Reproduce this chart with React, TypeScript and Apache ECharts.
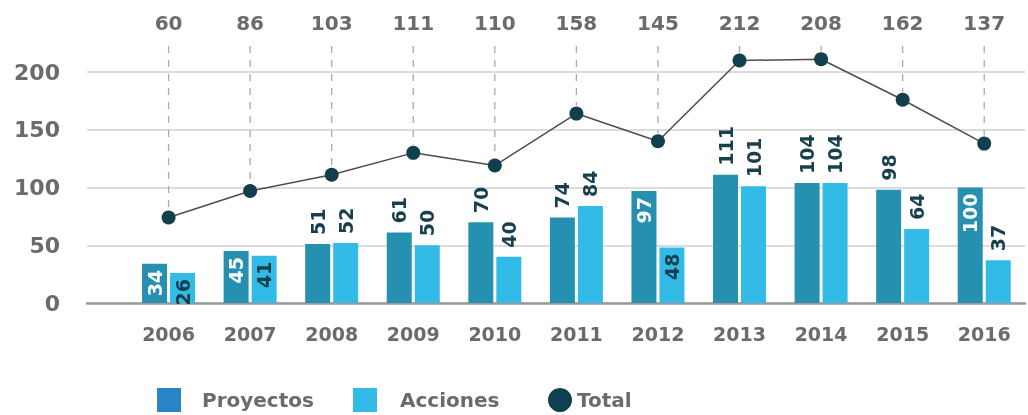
import React, { useEffect, useRef } from "react";
import * as echarts from "echarts";

const years = ["2006", "2007", "2008", "2009", "2010", "2011", "2012", "2013", "2014", "2015", "2016"];
const proyectos = [34, 45, 51, 61, 70, 74, 97, 111, 104, 98, 100];
const acciones = [26, 41, 52, 50, 40, 84, 48, 101, 104, 64, 37];
const totalLabels = [60, 86, 103, 111, 110, 158, 145, 212, 208, 162, 137];
const totalLine = [74, 97, 111, 130, 119, 164, 140, 210, 211, 176, 138];
const proyectosInside = ["2006", "2007", "2012", "2016"];
const accionesInside = ["2006", "2007", "2012"];

const FONT = '"DejaVu Sans", sans-serif';
const DARK = "#173f4c";
const GRAY = "#6b6b6b";

function barData(values: number[], inside: string[], insideColor: string) {
  return values.map((v, i) => {
    const isIn = inside.includes(years[i]);
    return {
      value: [Number(years[i]), v],
      label: isIn
        ? { position: "insideTop", align: "right", verticalAlign: "middle", distance: 6, color: insideColor }
        : { position: "top", align: "left", verticalAlign: "middle", distance: 9, color: DARK },
    };
  });
}

export default function App() {
  const ref = useRef<HTMLDivElement>(null);
  useEffect(() => {
    const chart = echarts.init(ref.current!, undefined, { renderer: "svg" });
    const barLabel = {
      show: true,
      rotate: 90,
      fontFamily: FONT,
      fontWeight: "bold",
      fontSize: 19,
      formatter: (p: any) => String(p.value[1]),
    };
    const legendText = { fontFamily: FONT, fontWeight: "bold", fontSize: 20, color: GRAY };
    chart.setOption({
      animation: false,
      grid: { left: 87, right: 3, top: 72, bottom: 112 },
      legend: [
        {
          left: 157, top: 388, padding: 0, itemWidth: 24, itemHeight: 24, icon: "rect",
          data: [{ name: "Proyectos", itemStyle: { color: "#2a84c6" } }],
          textStyle: { ...legendText, padding: [0, 0, 0, 16] },
        },
        {
          left: 353, top: 388, padding: 0, itemWidth: 24, itemHeight: 24, icon: "rect",
          data: [{ name: "Acciones", itemStyle: { color: "#33bbe8" } }],
          textStyle: { ...legendText, padding: [0, 0, 0, 18] },
        },
        {
          left: 548, top: 388, padding: 0, itemWidth: 24, itemHeight: 24, icon: "circle",
          data: [{ name: "Total", itemStyle: { color: "#123f4c" } }],
          textStyle: { ...legendText },
        },
      ],
      xAxis: {
        type: "value",
        min: 2005,
        max: 2016.5,
        interval: 1,
        splitLine: { show: false },
        axisTick: { show: false },
        axisLine: { show: true, lineStyle: { color: "#9a9a9a", width: 2.5 } },
        axisLabel: {
          margin: 21,
          fontFamily: FONT,
          fontWeight: "bold",
          fontSize: 19,
          color: GRAY,
          showMinLabel: false,
          showMaxLabel: false,
          formatter: (v: number) => {
            const s = String(v);
            return years.includes(s) ? s : "";
          },
        },
      },
      yAxis: {
        type: "value",
        min: 0,
        max: 200,
        interval: 50,
        axisLine: { show: false },
        axisTick: { show: false },
        splitLine: { lineStyle: { color: "#dcdcdc", width: 2 } },
        axisLabel: { margin: 27, fontFamily: FONT, fontWeight: "bold", fontSize: 22, color: GRAY },
      },
      series: [
        {
          type: "custom",
          name: "guides",
          z: 1,
          clip: false,
          silent: true,
          data: years.map((y, i) => [Number(y), totalLine[i], totalLabels[i]]),
          encode: { x: 0, y: 1 },
          renderItem: (params: any, api: any) => {
            const pt = api.coord([api.value(0), api.value(1)]);
            const top = params.coordSys.y;
            return {
              type: "group",
              children: [
                {
                  type: "line",
                  shape: { x1: pt[0], y1: top - 26, x2: pt[0], y2: pt[1] - 8 },
                  style: { stroke: "#aaaaaa", lineWidth: 1.3, lineDash: [7, 7] },
                },
                {
                  type: "text",
                  style: {
                    text: String(api.value(2)),
                    x: pt[0],
                    y: top - 49,
                    align: "center",
                    verticalAlign: "middle",
                    fontFamily: FONT,
                    fontWeight: "bold",
                    fontSize: 20,
                    fill: GRAY,
                  },
                },
              ],
            };
          },
        },
        {
          type: "bar",
          name: "Proyectos",
          barWidth: 25,
          barGap: "12%",
          z: 2,
          itemStyle: { color: "#2590b0" },
          label: barLabel,
          data: barData(proyectos, proyectosInside, "#ffffff"),
        },
        {
          type: "bar",
          name: "Acciones",
          barWidth: 25,
          barGap: "12%",
          z: 2,
          itemStyle: { color: "#33bbe8" },
          label: barLabel,
          data: barData(acciones, accionesInside, DARK),
        },
        {
          type: "line",
          name: "Total",
          z: 5,
          clip: false,
          symbol: "circle",
          symbolSize: 14,
          itemStyle: { color: "#123f4c" },
          lineStyle: { color: "#4d4d4d", width: 1.5 },
          data: years.map((y, i) => [Number(y), totalLine[i]]),
        },
      ],
    });
    return () => chart.dispose();
  }, []);
  return <div ref={ref} style={{ position: "fixed", left: 0, top: 0, width: 1028, height: 415 }} />;
}
